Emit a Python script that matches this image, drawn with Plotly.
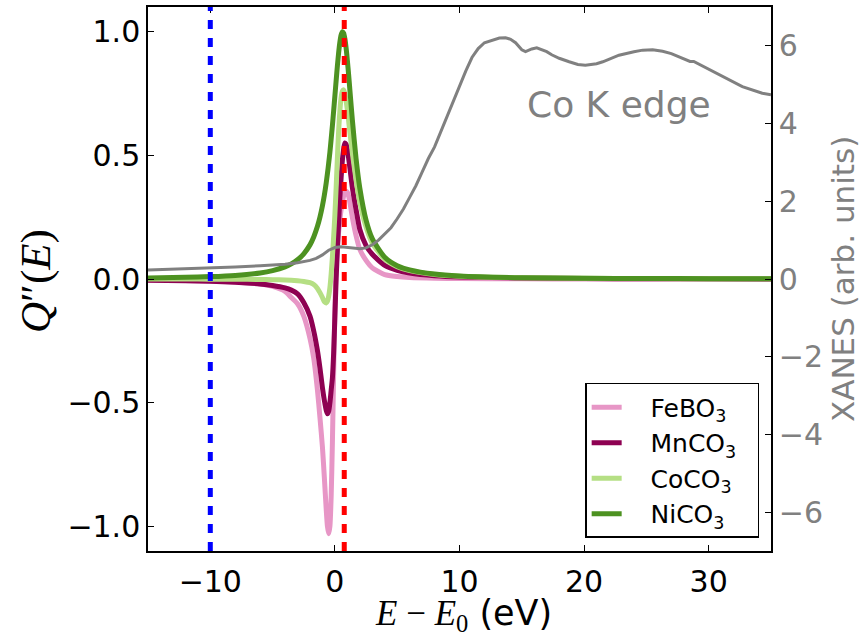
import plotly.graph_objects as go

# ---- data ----
x_q = [-15, -12, -10, -8, -6, -5, -4, -3.5, -3, -2.5, -2, -1.7, -1.4, -1.2, -1.0, -0.85,
       -0.7, -0.6, -0.5, -0.4, -0.3, -0.2, -0.1, 0.0, 0.1, 0.2, 0.3, 0.4, 0.5, 0.6, 0.7,
       0.8, 0.9, 1.0, 1.1, 1.2, 1.4, 1.7, 2.0, 2.5, 3.0, 4.0, 5.0, 6.0, 8.0, 10, 15, 20,
       25, 30, 35]

febo3 = [-0.004, -0.006, -0.008, -0.012, -0.02, -0.03, -0.05, -0.075, -0.10, -0.15, -0.24,
         -0.32, -0.45, -0.56, -0.68, -0.80, -0.93, -1.0, -1.03, -1.0, -0.88, -0.66, -0.38,
         -0.12, 0.05, 0.13, 0.19, 0.24, 0.28, 0.31, 0.335, 0.35, 0.355, 0.35, 0.335, 0.31,
         0.25, 0.175, 0.12, 0.075, 0.045, 0.018, 0.01, 0.006, 0.003, 0.002, 0.001, 0.0,
         0.0, 0.0, 0.0]

mnco3 = [-0.005, -0.007, -0.009, -0.013, -0.02, -0.026, -0.036, -0.045, -0.06, -0.095,
         -0.15, -0.21, -0.29, -0.36, -0.44, -0.49, -0.53, -0.545, -0.535, -0.50, -0.45,
         -0.40, -0.30, -0.15, 0.0, 0.12, 0.23, 0.33, 0.41, 0.48, 0.525, 0.55, 0.545, 0.525,
         0.49, 0.45, 0.37, 0.28, 0.20, 0.135, 0.10, 0.055, 0.035, 0.024, 0.013, 0.008,
         0.004, 0.002, 0.001, 0.001, 0.0]

coco3 = [0.0, 0.0, -0.001, -0.001, -0.002, -0.003, -0.004, -0.005, -0.007, -0.010, -0.015,
         -0.022, -0.038, -0.055, -0.075, -0.092, -0.097, -0.09, -0.07, -0.035, 0.02, 0.09,
         0.17, 0.26, 0.37, 0.49, 0.60, 0.68, 0.735, 0.76, 0.765, 0.75, 0.72, 0.685, 0.64,
         0.595, 0.51, 0.40, 0.31, 0.21, 0.145, 0.08, 0.05, 0.034, 0.018, 0.011, 0.005,
         0.003, 0.002, 0.001, 0.001]

nico3 = [0.0045, 0.0069, 0.0097, 0.0146, 0.0246, 0.0338, 0.049, 0.061, 0.0777, 0.102,
         0.138, 0.170, 0.213, 0.25, 0.296, 0.338, 0.388, 0.426, 0.468, 0.514, 0.566, 0.621,
         0.680, 0.741, 0.803, 0.862, 0.915, 0.958, 0.987, 1.0, 0.994, 0.972, 0.934, 0.884,
         0.827, 0.766, 0.644, 0.486, 0.367, 0.238, 0.163, 0.088, 0.054, 0.037, 0.020,
         0.0124, 0.0053, 0.0029, 0.0019, 0.0013, 0.001]

x_xanes = [-15, -12, -10, -8, -6, -4, -3, -2, -1.5, -1, -0.5, 0, 0.5, 1, 1.5, 2, 2.5, 3,
           3.5, 4, 4.5, 5, 5.5, 6, 6.5, 7, 7.5, 8, 8.5, 9, 9.5, 10, 10.5, 11, 11.5, 12,
           12.6, 13.2, 13.7, 14.1, 14.5, 15, 15.3, 15.8, 16.2, 17, 17.4, 18, 18.8, 19.5,
           20.1, 21, 21.5, 22.8, 24, 24.7, 25.5, 26.3, 27, 27.6, 28.5, 28.8, 29.5, 30.9,
           32, 32.7, 34.3, 35]
xanes = [0.23, 0.26, 0.28, 0.31, 0.34, 0.38, 0.42, 0.48, 0.53, 0.62, 0.74, 0.81, 0.83,
         0.81, 0.79, 0.78, 0.80, 0.88, 1.0, 1.15, 1.32, 1.55, 1.8, 2.1, 2.4, 2.75, 3.1,
         3.4, 3.8, 4.15, 4.55, 4.95, 5.35, 5.7, 5.93, 6.08, 6.15, 6.2, 6.21, 6.17, 6.08,
         5.9, 5.85, 5.92, 5.95, 5.85, 5.77, 5.68, 5.59, 5.52, 5.5, 5.54, 5.59, 5.76, 5.85,
         5.89, 5.9, 5.86, 5.8, 5.72, 5.6, 5.6, 5.48, 5.25, 5.07, 4.95, 4.78, 4.74]

series_names = ["FeBO<sub>3</sub>", "MnCO<sub>3</sub>", "CoCO<sub>3</sub>", "NiCO<sub>3</sub>"]
series_vals = [febo3, mnco3, coco3, nico3]
series_colors = ["#e796c6", "#8e0152", "#b5df84", "#4d9221"]

vline_x = [-10, 0.75]
vline_colors = ["#0000ff", "#ff0000"]

x_ticks = [-10, 0, 10, 20, 30]
y_ticks = [-1.0, -0.5, 0.0, 0.5, 1.0]
y2_ticks = [-6, -4, -2, 0, 2, 4, 6]

FONT = "DejaVu Sans"
SERIF = "Liberation Serif"
PAD_L = "&nbsp;" * 3
PAD_R = "&nbsp;" * 2

fig = go.Figure()
for name, vals, col in zip(series_names, series_vals, series_colors):
    fig.add_trace(go.Scatter(x=x_q, y=vals, name=PAD_L + name + PAD_R, mode="lines",
                             line=dict(color=col, width=5, shape="spline", smoothing=0.6)))

fig.add_trace(go.Scatter(x=x_xanes, y=xanes, yaxis="y2", mode="lines", showlegend=False,
                         line=dict(color="#808080", width=3)))

shapes = []
for xv, col in zip(vline_x, vline_colors):
    shapes.append(dict(type="line", xref="x", yref="paper", x0=xv, x1=xv, y0=0, y1=1,
                       layer="above", line=dict(color=col, width=5, dash="9px,9px")))

axis_common = dict(showgrid=False, zeroline=False, ticks="inside", ticklen=6, tickwidth=1,
                   tickcolor="black", linecolor="black", linewidth=1.5, showline=True)

fig.update_layout(
    width=861, height=637,
    margin=dict(l=148, r=90, t=5, b=86),
    paper_bgcolor="white", plot_bgcolor="white",
    font=dict(family=FONT, size=30, color="black"),
    xaxis=dict(range=[-15, 35], tickvals=x_ticks, mirror="ticks", ticklabelstandoff=3,
               tickfont=dict(size=30), **axis_common),
    yaxis=dict(range=[-1.1, 1.1], tickvals=y_ticks, tickformat=".1f", mirror=False,
               tickfont=dict(size=30), **axis_common),
    yaxis2=dict(range=[-7, 7], tickvals=y2_ticks, overlaying="y", side="right",
                tickfont=dict(size=30, color="#808080"), **axis_common),
    legend=dict(x=0.981, y=0.024, xanchor="right", yanchor="bottom",
                bgcolor="white", bordercolor="black", borderwidth=1.5,
                font=dict(family=FONT, size=25, color="black"), tracegroupgap=0),
    shapes=shapes,
    annotations=[
        dict(text=f"<span style='font-family:{SERIF}'><i>E</i> − <i>E</i><sub>0</sub></span> (eV)",
             xref="paper", yref="paper", x=0.507, y=-0.117, showarrow=False,
             xanchor="center", yanchor="middle", font=dict(size=35, family=FONT)),
        dict(text="<i>Q</i>″(<i>E</i>)", xref="paper", yref="paper", x=-0.18, y=0.496,
             showarrow=False, textangle=-90, xanchor="center", yanchor="middle",
             font=dict(size=43, family=SERIF)),
        dict(text="XANES (arb. units)", xref="paper", yref="paper", x=1.1156, y=0.5,
             showarrow=False, textangle=-90, xanchor="center", yanchor="middle",
             font=dict(size=31, family=FONT, color="#808080")),
        dict(text="Co K edge", xref="x", yref="y2", x=22.8, y=4.5, showarrow=False,
             xanchor="center", yanchor="middle",
             font=dict(size=36, family=FONT, color="#808080")),
    ],
)

fig.write_html("out.html")
